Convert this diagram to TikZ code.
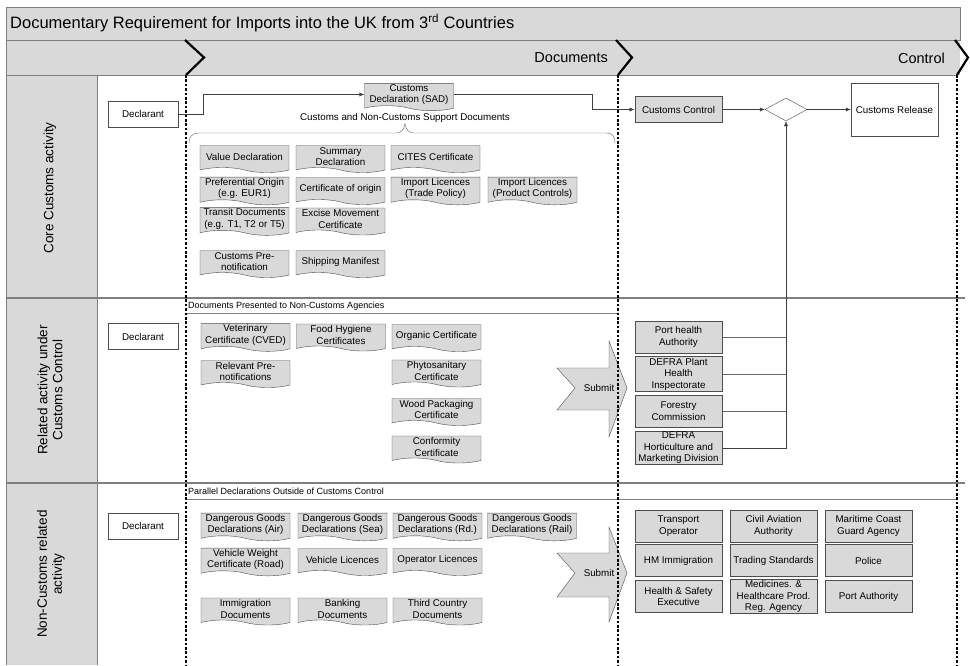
\documentclass[tikz,border=0pt]{standalone}
\usepackage{fontspec}
\setmainfont{Liberation Sans}
\usepackage{tikz}
\usetikzlibrary{shapes.geometric,shapes.symbols,arrows.meta}

\definecolor{boxfill}{HTML}{D9D9D9}
\definecolor{boxedge}{HTML}{4D4D4D}
\definecolor{laneline}{HTML}{7F7F7F}

\begin{document}
\begin{tikzpicture}[x=1pt,y=-1pt,
  nodes = {align=center,inner sep=1pt,font=\fontsize{9.8}{11.5}\selectfont},
  paper/.style = {tape,tape bend top=none,tape bend bottom=out and in,tape bend height=5pt,draw=boxedge,fill=boxfill,minimum width=89pt,minimum height=27pt},
  actor/.style = {draw=boxedge,fill=white,minimum width=70pt,minimum height=26pt},
  agency/.style = {draw=boxedge,fill=boxfill,line width=1pt,minimum width=87pt,minimum height=32pt},
  decision/.style = {diamond,draw=boxedge,fill=white,minimum width=42pt,minimum height=23pt,inner sep=0pt},
  flow/.style = {draw=black!75,-{Latex[length=5pt,width=4pt]}},
  link/.style = {draw=black!60},
  lanetitle/.style = {rotate=90,font=\fontsize{13.5}{15}\selectfont},
  phasetitle/.style = {anchor=east,font=\fontsize{14.5}{16}\selectfont},
  phasemark/.style = {draw=black,line width=2.2pt},
  gate/.style = {draw=black,line width=2.8pt,dash pattern=on 2.6pt off 1.8pt},
  sepline/.style = {draw=laneline,line width=1.2pt},
  subline/.style = {draw=laneline,line width=0.7pt},
  sublabel/.style = {anchor=west,font=\fontsize{9}{10}\selectfont},
  submitarrow/.style = {draw=boxedge,fill=boxfill}]

\useasboundingbox (0,0) rectangle (970,665);

\fill[boxfill] (6,7) rectangle (960,75);
\fill[boxfill] (6,75) rectangle (97,665);
\draw[laneline] (6,7) rectangle (960,40);
\draw[laneline] (6,40) -- (6,665);
\draw[laneline] (6,75) -- (958,75);
\draw[laneline] (97,75) -- (97,665);
\draw[sepline] (6,298) -- (965,298);
\draw[sepline] (6,483) -- (965,483);
\draw[subline] (186,313) -- (618,313);
\draw[subline] (186,499) -- (958,499);

\node[anchor=west,font=\fontsize{16.5}{18}\selectfont] (title) at (9,23) {Documentary Requirement for Imports into the UK from 3\textsuperscript{rd} Countries};
\node[phasetitle] (docphase) at (609,58) {Documents};
\node[phasetitle] (ctrlphase) at (946,58) {Control};

\node[lanetitle] (corelane) at (50,188) {Core Customs activity};
\node[lanetitle] (rellane) at (50,390) {Related activity under\\Customs Control};
\node[lanetitle] (otherlane) at (51,574) {Non-Customs related\\activity};

\node[sublabel] (agencylbl) at (187,306) {Documents Presented to Non-Customs Agencies};
\node[sublabel] (parallellbl) at (187,491) {Parallel Declarations Outside of Customs Control};

\draw[submitarrow] (557,368) -- (609,368) -- (609,341) -- (627,388) -- (609,437) -- (609,410) -- (557,410) -- (575,388) -- cycle;
\draw[submitarrow] (557,553) -- (609,553) -- (609,527) -- (627,573) -- (609,622) -- (609,597) -- (557,597) -- (575,573) -- cycle;
\node (submitrel) at (599,388) {Submit};
\node (submitother) at (599,573) {Submit};

\draw[phasemark] (185,40) -- (204,57.5) -- (186,75);
\draw[phasemark] (616,40) -- (632,57.5) -- (618,75);
\draw[phasemark] (955,40) -- (968,57.5) -- (957,75);
\draw[gate] (186,75) -- (186,665);
\draw[gate] (618,75) -- (618,665);
\draw[gate] (957,75) -- (957,665);

\node[actor] (declcore) at (143,114) {Declarant};
\node[actor] (declrel) at (143,336.5) {Declarant};
\node[actor] (declother) at (143,526) {Declarant};

\node[paper] (sad) at (409,94.5) {Customs\\Declaration (SAD)};
\node (supportlbl) at (405,118) {Customs and Non-Customs Support Documents};

\node[paper] (valuedecl) at (244.5,156.5) {Value Declaration};
\node[paper] (summarydecl) at (340.5,156.5) {Summary\\Declaration};
\node[paper] (cites) at (435.5,156.5) {CITES Certificate};
\node[paper] (preforigin) at (244.5,188.5) {Preferential Origin\\(e.g. EUR1)};
\node[paper] (certorigin) at (340.5,188.5) {Certificate of origin};
\node[paper] (lictrade) at (435.5,188.5) {Import Licences\\(Trade Policy)};
\node[paper] (licproduct) at (532.5,188.5) {Import Licences\\(Product Controls)};
\node[paper] (transit) at (244.5,219) {Transit Documents\\(e.g. T1, T2 or T5)};
\node[paper] (excise) at (340.5,219) {Excise Movement\\Certificate};
\node[paper] (prenotif) at (244.5,261.5) {Customs Pre-\\notification};
\node[paper] (manifest) at (340.5,261.5) {Shipping Manifest};

\node[paper] (vetcert) at (245.5,335) {Veterinary\\Certificate (CVED)};
\node[paper] (foodhyg) at (341,335) {Food Hygiene\\Certificates};
\node[paper] (organic) at (436.5,335.5) {Organic Certificate};
\node[paper] (relprenotif) at (245.5,371.5) {Relevant Pre-\\notifications};
\node[paper] (phyto) at (436.5,371) {Phytosanitary\\Certificate};
\node[paper] (woodpack) at (436.5,409.5) {Wood Packaging\\Certificate};
\node[paper] (conformity) at (436.5,447) {Conformity\\Certificate};

\node[paper] (dgair) at (245.5,524.5) {Dangerous Goods\\Declarations (Air)};
\node[paper] (dgsea) at (342.5,524.5) {Dangerous Goods\\Declarations (Sea)};
\node[paper] (dgroad) at (437.5,524.5) {Dangerous Goods\\Declarations (Rd.)};
\node[paper] (dgrail) at (532,524.5) {Dangerous Goods\\Declarations (Rail)};
\node[paper] (vehweight) at (245.5,559.5) {Vehicle Weight\\Certificate (Road)};
\node[paper] (vehlic) at (342.5,559.5) {Vehicle Licences};
\node[paper] (oplic) at (437.5,559.5) {Operator Licences};
\node[paper] (immdocs) at (245.5,609) {Immigration\\Documents};
\node[paper] (bankdocs) at (342.5,609) {Banking\\Documents};
\node[paper] (thirddocs) at (437.5,609) {Third Country\\Documents};

\node[agency,minimum height=26pt] (ccontrol) at (678.5,109.5) {Customs Control};
\node[decision] (decide) at (786,109.5) {};
\node[actor,minimum width=87pt,minimum height=53pt] (crelease) at (894.5,109.5) {Customs Release};

\node[agency] (porthealth) at (678.5,337) {Port health\\Authority};
\node[agency] (defraplant) at (678.5,374) {DEFRA Plant\\Health\\Inspectorate};
\node[agency] (forestry) at (678.5,411) {Forestry\\Commission};
\node[agency] (defrahort) at (678.5,448) {DEFRA\\Horticulture and\\Marketing Division};

\node[agency] (transport) at (678.5,526) {Transport\\Operator};
\node[agency] (caa) at (773.5,526) {Civil Aviation\\Authority};
\node[agency] (coastguard) at (868.5,526) {Maritime Coast\\Guard Agency};
\node[agency] (hmimm) at (678.5,560.5) {HM Immigration};
\node[agency] (tradestd) at (773.5,560.5) {Trading Standards};
\node[agency] (police) at (868.5,560.5) {Police};
\node[agency] (hse) at (678.5,596.5) {Health \& Safety\\Executive};
\node[agency] (mhra) at (773.5,596.5) {Medicines. \&\\Healthcare Prod.\\Reg. Agency};
\node[agency] (portauth) at (868.5,596.5) {Port Authority};

\draw[link] (189,143) .. controls (189,137) and (192,133) .. (199,133) -- (396,133) .. controls (401,133) and (404,130) .. (supportlbl.south) .. controls (406,130) and (409,133) .. (414,133) -- (606,133) .. controls (613,133) and (615,137) .. (615,143);

\coordinate (sadbend) at (592,100);
\coordinate (agencyjoin) at (decide.south |- defrahort.east);

\draw[flow] (declcore.east) -- ++(25,0) |- (sad.west);
\draw[flow] (sad.east) -- (sad.east -| sadbend) |- (ccontrol.west);
\draw[flow] (ccontrol) to (decide);
\draw[flow] (decide) to (crelease);

\draw[link] (porthealth.east) -- (porthealth.east -| agencyjoin);
\draw[link] (defraplant.east) -- (defraplant.east -| agencyjoin);
\draw[link] (forestry.east) -- (forestry.east -| agencyjoin);
\draw[flow] (defrahort.east) -- (agencyjoin) -- (decide.south);
\end{tikzpicture}
\end{document}
